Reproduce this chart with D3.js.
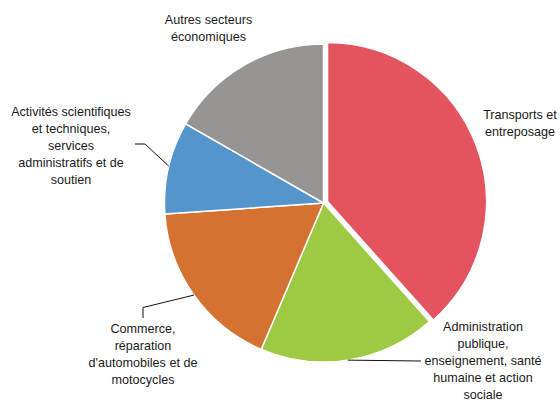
<!DOCTYPE html>
<html>
<head>
<meta charset="utf-8">
<script src="https://cdn.jsdelivr.net/npm/d3@7/dist/d3.min.js"></script>
<style>
  html, body { margin: 0; padding: 0; background: #fff; }
  svg { display: block; }
  text { font-family: "Liberation Sans", Arial, sans-serif; font-size: 12.6px; fill: #1a1a1a; }
</style>
</head>
<body>
<svg id="chart" width="560" height="400"></svg>
<script>
// Sectors (share of total, %)
const categories = [
  "Transports et entreposage",
  "Administration publique, enseignement, santé humaine et action sociale",
  "Commerce, réparation d'automobiles et de motocycles",
  "Activités scientifiques et techniques, services administratifs et de soutien",
  "Autres secteurs économiques"
];
const values = [38.4, 18.0, 17.5, 9.4, 16.7];
const colors = ["#E3545F", "#9DCA42", "#D57232", "#5495CB", "#979593"];

// Label lines as they are broken in the chart
const labelLines = [
  ["Transports et", "entreposage"],
  ["Administration", "publique,", "enseignement, santé", "humaine et action", "sociale"],
  ["Commerce,", "réparation", "d'automobiles et de", "motocycles"],
  ["Activités scientifiques", "et techniques,", "services", "administratifs et de", "soutien"],
  ["Autres secteurs", "économiques"]
];

// Layout
const cx = 323.5, cy = 203, radius = 159, explode = 4.3, lineH = 17;
const labelLayout = [
  { x: 520, y: 115, leader: null },
  { x: 483, y: 326.5, leader: { angle: 171.2, path: [[421, 361]] } },
  { x: 143, y: 329, leader: { angle: 234.6, path: [[143, 307.5], [143, 318]] } },
  { x: 71,  y: 112, leader: { angle: 283.4, path: [[145, 144], [135, 144]] } },
  { x: 208.5, y: 20, leader: null }
];

const svg = d3.select("#chart");
const g = svg.append("g").attr("transform", `translate(${cx},${cy})`);

const pie = d3.pie().sort(null).value(d => d).startAngle(0).endAngle(2 * Math.PI);
const arcs = pie(values);
const arc = d3.arc().innerRadius(0).outerRadius(radius);

g.selectAll("path.slice")
  .data(arcs)
  .join("path")
  .attr("class", "slice")
  .attr("d", arc)
  .attr("fill", (d, i) => colors[i])
  .attr("stroke", "#fff")
  .attr("stroke-width", 1.5)
  .attr("stroke-linejoin", "round")
  .attr("transform", (d, i) => {
    if (i !== 0) return null;
    const mid = (d.startAngle + d.endAngle) / 2;
    return `translate(${explode * Math.sin(mid)},${-explode * Math.cos(mid)})`;
  });

// Leader lines from the slice edge to the label
const line = d3.line();
labelLayout.forEach((lay, i) => {
  if (!lay.leader) return;
  const a = lay.leader.angle * Math.PI / 180;
  const start = [cx + radius * Math.sin(a), cy - radius * Math.cos(a)];
  svg.append("path")
    .attr("d", line([start, ...lay.leader.path]))
    .attr("fill", "none")
    .attr("stroke", "#111")
    .attr("stroke-width", 1);
});

// Labels
labelLayout.forEach((lay, i) => {
  const t = svg.append("text")
    .attr("text-anchor", "middle")
    .attr("aria-label", categories[i]);
  labelLines[i].forEach((ln, k) => {
    t.append("tspan")
      .attr("x", lay.x)
      .attr("y", lay.y + k * lineH)
      .attr("dy", "0.35em")
      .text(ln);
  });
});
</script>
</body>
</html>
